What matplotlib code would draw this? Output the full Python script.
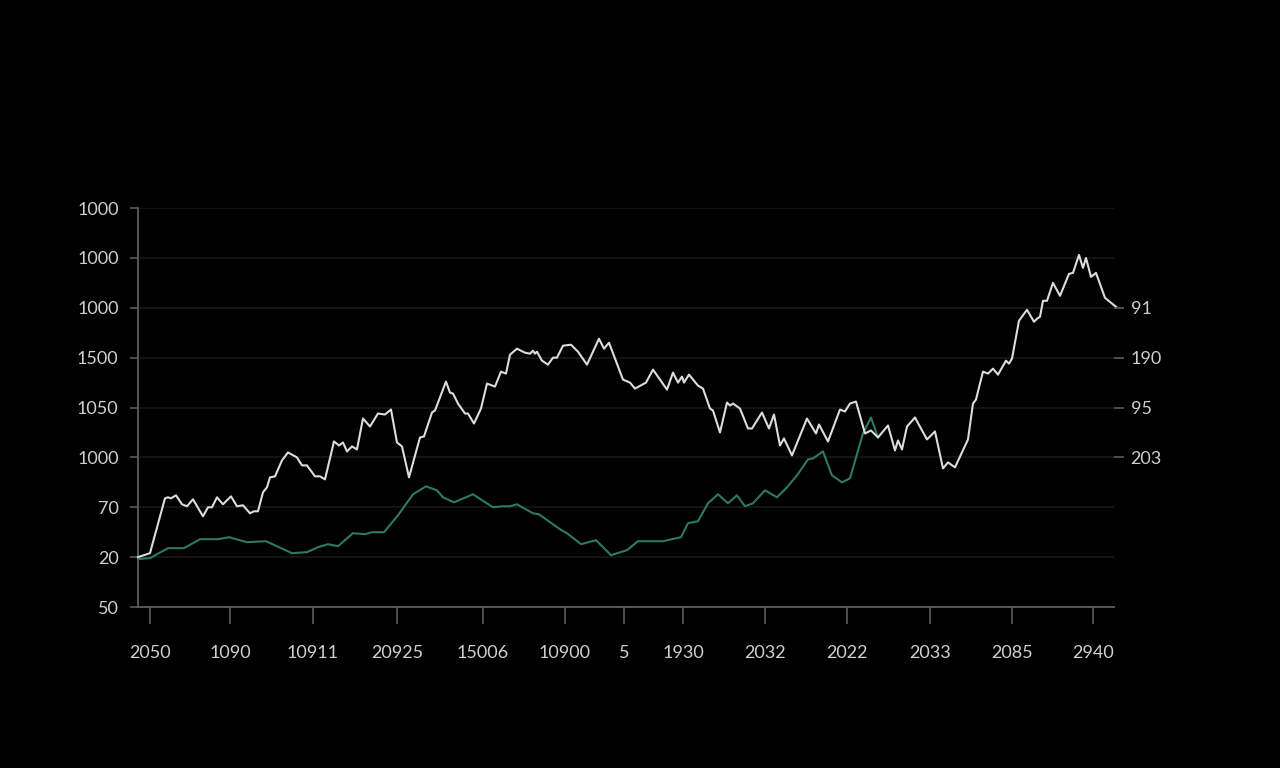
import matplotlib
matplotlib.use("Agg")
import matplotlib.pyplot as plt

plt.rcParams['font.family'] = ['Lato', 'DejaVu Sans']

# white series (x position along axis, value)
white_x = [0, 12, 27, 30, 33, 38, 44, 49, 55, 65, 70, 74, 79, 85, 93, 99, 105, 112, 116, 120,
           125, 129, 132, 137, 144, 150, 159, 164, 169, 177, 182, 187, 196, 201, 205, 209, 214, 219,
           225, 232, 240, 247, 253, 259, 264, 271, 282, 286, 294, 297, 308, 312, 315, 320, 327, 330,
           336, 343, 349, 357, 363, 368, 372, 379, 387, 392, 395, 397, 399, 404, 410, 415, 419, 425,
           433, 440, 449, 461, 466, 471, 485, 492, 497, 508, 515, 529, 535, 540, 544, 546, 551, 560,
           565, 572, 575, 582, 589, 592, 595, 602, 610, 614, 624, 631, 636, 642, 646, 654, 669, 678,
           681, 690, 702, 707, 712, 718, 727, 733, 740, 750, 757, 760, 764, 769, 777, 789, 797, 805,
           810, 817, 830, 835, 838, 845, 850, 855, 860, 868, 871, 874, 881, 889, 896, 899, 902, 905,
           909, 915, 922, 931, 935, 941, 945, 948, 953, 958, 967, 978]
white_y = [50, 54, 109, 110, 109, 112, 103, 101, 108, 91, 100, 100, 110, 103, 111, 101, 102, 94, 96, 96,
           115, 120, 130, 131, 147, 155, 150, 142, 142, 131, 131, 128, 166, 162, 165, 156, 161, 158,
           189, 181, 194, 193, 198, 165, 161, 130, 170, 171, 195, 197, 226, 215, 214, 204, 194, 194,
           184, 199, 224, 221, 236, 234, 253, 259, 255, 254, 257, 254, 256, 247, 243, 250, 250, 262,
           263, 256, 243, 269, 259, 265, 228, 225, 219, 225, 238, 218, 235, 225, 231, 225, 233, 222,
           219, 199, 197, 175, 205, 202, 204, 199, 179, 179, 195, 179, 193, 162, 169, 152, 189, 174,
           183, 166, 198, 196, 204, 206, 174, 177, 170, 182, 157, 167, 158, 181, 190, 168, 176, 139,
           145, 140, 168, 204, 208, 236, 234, 239, 233, 247, 244, 249, 287, 298, 286, 289, 291, 307,
           307, 325, 312, 334, 335, 353, 340, 350, 331, 335, 310, 301]

# green series
green_x = [0, 12, 30, 46, 62, 80, 91, 109, 128, 154, 169, 180, 190, 200, 215, 227, 234, 246, 260,
           275, 288, 299, 305, 316, 335, 355, 364, 372, 379, 395, 401, 422, 429, 443, 458, 473, 489,
           500, 525, 543, 550, 560, 570, 580, 590, 599, 607, 615, 627, 639, 649, 659, 670, 675, 685,
           694, 704, 712, 725, 733, 740]
green_y = [48, 49, 59, 59, 68, 68, 70, 65, 66, 54, 55, 60, 63, 61, 74, 73, 75, 75, 92,
           113, 121, 117, 110, 105, 113, 100, 101, 101, 103, 94, 93, 78, 74, 63, 67, 52, 57,
           66, 66, 70, 84, 86, 104, 113, 104, 112, 101, 104, 117, 110, 120, 132, 148, 149, 156,
           132, 125, 129, 174, 190, 170]

y_ticks = [0, 50, 100, 150, 200, 250, 300, 350, 400]
y_labels = ['50', '20', '70', '1000', '1050', '1500', '1000', '1000', '1000']
right_ticks = [300, 250, 200, 150]
right_labels = ['91', '190', '95', '203']
x_ticks = [12, 92, 175, 259, 345, 427, 486, 545, 627, 709, 792, 874, 955]
x_labels = ['2050', '1090', '10911', '20925', '15006', '10900', '5', '1930',
            '2032', '2022', '2033', '2085', '2940']

text_c = '#cfcfcf'
spine_c = '#5c5c5c'

fig = plt.figure(figsize=(12.8, 7.68), dpi=100, facecolor='black')
ax = fig.add_axes([0.1078, 0.2096, 0.7625, 0.5195])
ax.set_facecolor('black')

for v in y_ticks[1:]:
    ax.axhline(v, color='#171717', lw=1.2, zorder=0)

ax.plot(green_x, green_y, color='#2e7a5e', lw=1.5, zorder=2)
ax.plot(white_x, white_y, color='#dcdcdc', lw=1.5, zorder=3, clip_on=False)

ax.set_xlim(0, 976)
ax.set_ylim(0, 400)

for s in ['top', 'right']:
    ax.spines[s].set_visible(False)
for s in ['left', 'bottom']:
    ax.spines[s].set_color(spine_c)
    ax.spines[s].set_linewidth(1.3)

ax.set_yticks(y_ticks)
ax.set_yticklabels(y_labels)
ax.set_xticks(x_ticks)
ax.set_xticklabels(x_labels)
ax.tick_params(axis='y', colors=spine_c, labelcolor=text_c, length=6, width=1.2,
               labelsize=13, pad=8)
ax.tick_params(axis='x', colors=spine_c, labelcolor=text_c, length=12, width=1.2,
               labelsize=13, pad=15)

ax2 = ax.twinx()
ax2.set_ylim(0, 400)
for s in ax2.spines.values():
    s.set_visible(False)
ax2.set_yticks(right_ticks)
ax2.set_yticklabels(right_labels)
ax2.tick_params(axis='y', colors=spine_c, labelcolor=text_c, length=7, width=1.2,
                labelsize=13, pad=5, direction='out')

fig.savefig('out.png', dpi=100, facecolor='black')
